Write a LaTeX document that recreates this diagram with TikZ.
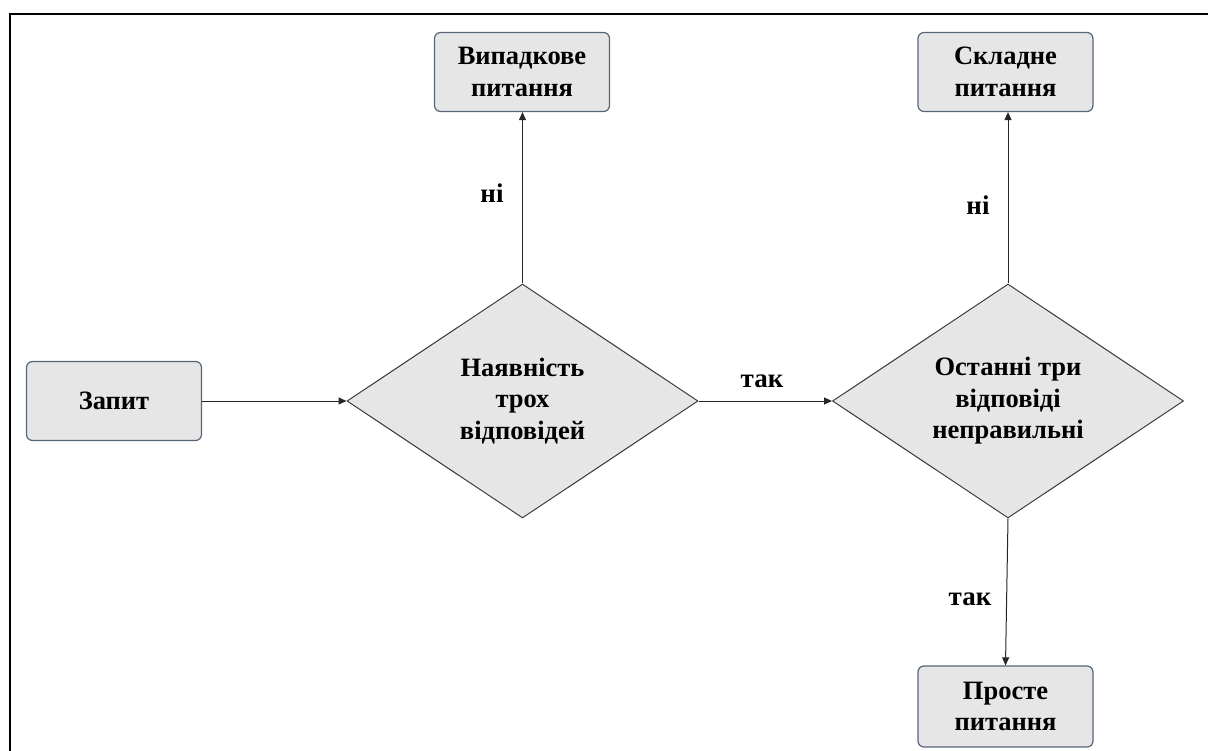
\documentclass[tikz,border=0pt]{standalone}
\usepackage{fontspec}
\setmainfont{Liberation Serif}
\usetikzlibrary{shapes.geometric,arrows.meta}
\definecolor{boxfill}{HTML}{E6E6E6}
\definecolor{boxline}{HTML}{56657A}
\definecolor{dline}{HTML}{3C3C3C}
\begin{document}
\begin{tikzpicture}[x=1pt,y=-1pt,
  txt/.style={font=\bfseries\fontsize{26.5}{31.5}\selectfont, align=center},
  qbox/.style={txt, draw=boxline, fill=boxfill, line width=1.2pt, rounded corners=6pt,
    minimum width=175pt, minimum height=79pt, inner sep=0pt},
  decide/.style={txt, diamond, draw=dline, fill=boxfill, line width=1pt, aspect=1.5,
    inner sep=0pt, minimum width=351pt, minimum height=234pt},
  conn/.style={draw=black!85, line width=1pt, -{Triangle[length=8pt,width=7pt]}},
  lbl/.style={font=\bfseries\fontsize{27}{30}\selectfont}
]
\useasboundingbox (0,0) rectangle (1208,751);
\draw[line width=2.4pt] (10,751) -- (10,14) -- (1208,14);

\node[qbox] (q) at (114,401) {Запит};
\node[qbox] (b1) at (522,72) {Випадкове\\питання};
\node[qbox] (b2) at (1005.5,72) {Складне\\питання};
\node[qbox, minimum height=81pt] (b3) at (1005.5,706.5) {Просте\\питання};
\node[decide] (d1) at (522.5,401) {Наявність\\трох\\відповідей};
\node[decide] (d2) at (1008,401) {Останні три\\відповіді\\неправильні};

\node[lbl] (l1) at (492,193) {ні};
\node[lbl] (l2) at (978,205) {ні};
\node[lbl] (l3) at (762,381) {так};
\node[lbl] (l4) at (970,599) {так};

\draw[conn] (q.east) -- (d1.west);
\draw[conn] (d1.east) -- (d2.west);
\draw[conn] (d1.north) -- (d1.north |- b1.south);
\draw[conn] (d2.north) -- (d2.north |- b2.south);
\draw[conn] (d2.south) -- (b3.north);
\end{tikzpicture}
\end{document}
